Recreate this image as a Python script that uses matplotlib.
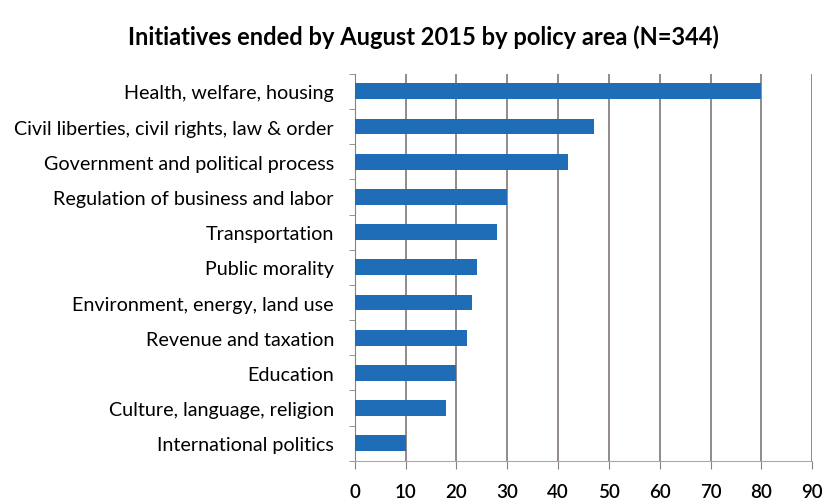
import matplotlib
matplotlib.use("Agg")
import matplotlib.pyplot as plt
import numpy as np

categories = [
    "Health, welfare, housing",
    "Civil liberties, civil rights, law & order",
    "Government and political process",
    "Regulation of business and labor",
    "Transportation",
    "Public morality",
    "Environment, energy, land use",
    "Revenue and taxation",
    "Education",
    "Culture, language, religion",
    "International politics",
]
counts = [80, 47, 42, 30, 28, 24, 23, 22, 20, 18, 10]
x_ticks = list(range(0, 91, 10))

plt.rcParams["font.family"] = ["Lato", "DejaVu Sans"]

fig = plt.figure(figsize=(8.23, 5.02), dpi=100)
ax = fig.add_axes([0.431, 0.080, 0.556, 0.771])

y = np.arange(len(categories))[::-1]
ax.barh(y, counts, height=0.45, color="#1f6db6", zorder=3)

ax.set_xlim(0, 90)
ax.set_ylim(-0.5, len(categories) - 0.5)
ax.set_xticks(x_ticks)
ax.set_yticks(y)
ax.set_yticklabels(categories, fontsize=14.2)
ax.set_yticks(np.arange(-0.5, len(categories), 1), minor=True)
ax.tick_params(axis="y", which="major", length=0, pad=15)
ax.tick_params(axis="y", which="minor", length=4, color="#8a8080")
ax.tick_params(axis="x", length=6, color="#8a8080", labelsize=13.5, pad=10)
for lbl in ax.get_xticklabels():
    lbl.set_fontweight("semibold")

ax.grid(axis="x", color="#8a8080", linewidth=1.3, zorder=0)
for s in ["top", "right"]:
    ax.spines[s].set_visible(False)
ax.spines["left"].set_color("#8a8080")
ax.spines["bottom"].set_color("#b0a8a8")

fig.text(0.514, 0.925, "Initiatives ended by August 2015 by policy area (N=344)",
         ha="center", va="center", fontsize=17, fontweight="bold")

fig.savefig("out.png", dpi=100)
